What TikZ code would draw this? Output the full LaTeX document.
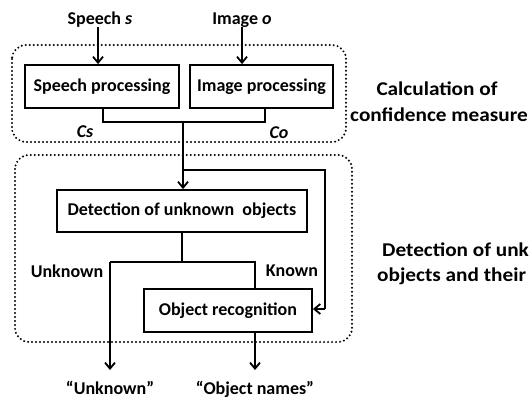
\documentclass[tikz,border=0pt]{standalone}
\usepackage{fontspec}
\setmainfont{Carlito}
\usetikzlibrary{arrows.meta}
\begin{document}
\begin{tikzpicture}[x=1pt,y=-1pt,
  font=\fontsize{18}{20}\selectfont\bfseries,
  box/.style={draw,line width=1.8pt,minimum height=43pt,inner sep=0pt},
  conn/.style={line width=1.8pt},
  arr/.style={conn,-{Straight Barb[length=6pt,width=10pt,line width=1.8pt]}},
  dotbox/.style={line width=2.2pt,line cap=round,dash pattern=on 0pt off 4pt,rounded corners=14pt},
  lbl/.style={inner sep=0pt},
  side/.style={inner sep=0pt,font=\fontsize{19.5}{22}\selectfont\bfseries}]
\useasboundingbox (0,0) rectangle (529,398);
\begin{scope}
\clip (0,0) rectangle (529,398);
% dotted groups
\draw[dotbox] (12,45) rectangle (346,142);
\draw[dotbox] (15,155) rectangle (352,342);
% boxes
\node[box,minimum width=154pt] (sp) at (102,86.5) {Speech processing};
\node[box,minimum width=143pt] (ip) at (261.5,86.5) {Image processing};
\node[box,minimum width=250pt,minimum height=42pt] (det) at (182,211) {Detection of unknown\ \ objects};
\node[box,minimum width=168pt] (orc) at (228,310.5) {Object recognition};
% inputs
\node[lbl] (ts) at (100,20) {Speech \textit{s}};
\node[lbl] (ti) at (242,20) {Image \textit{o}};
\coordinate (ts1) at (98,27);
\coordinate (ti1) at (242,27);
\draw[arr] (ts1) -- (ts1 |- sp.north);
\draw[arr] (ti1) -- (ti1 |- ip.north);
% bracket
\coordinate (bl) at (103,122);
\coordinate (br) at (265,122);
\coordinate (bj) at (183,122);
\draw[conn] (bl |- sp.south) -- (bl) -- (br) -- (br |- ip.south);
\draw[arr] (bj) -- (bj |- det.north);
\node[lbl] (cs) at (85,132) {\textit{Cs}};
\node[lbl] (co) at (279,133) {\textit{Co}};
% feedback
\coordinate (f0) at (183,170);
\coordinate (f1) at (325,170);
\coordinate (f2) at (325,309);
\draw[conn] (f0) -- (f1) -- (f2);
\draw[arr] (f2) -- (orc.east |- f2);
% split
\coordinate (s0) at (182,262);
\coordinate (sl) at (110,262);
\coordinate (sr) at (255,262);
\coordinate (ol) at (110,370);
\coordinate (or) at (255,370);
\draw[conn] (det.south) -- (s0);
\draw[conn] (sl) -- (sr) -- (sr |- orc.north);
\draw[arr] (sl) -- (ol);
\draw[arr] (sr |- orc.south) -- (or);
\node[lbl] (lu) at (67,271) {Unknown};
\node[lbl] (lk) at (292,271) {Known};
\node[lbl,anchor=base] (ou) at (110,394) {“Unknown”};
\node[lbl,anchor=base] (on) at (255,394) {“Object names”};
% side labels
\node[side] (c1) at (437,89) {\scalebox{1.09}[1]{Calculation of}};
\node[side] (c2) at (439,115) {\scalebox{1.09}[1]{confidence measure}};
\node[side,anchor=west] (d1) at (382,250) {\scalebox{1.09}[1]{Detection of unknown}};
\node[side,anchor=west] (d2) at (377,276) {\scalebox{1.09}[1]{objects and their names}};
\end{scope}
\end{tikzpicture}
\end{document}
